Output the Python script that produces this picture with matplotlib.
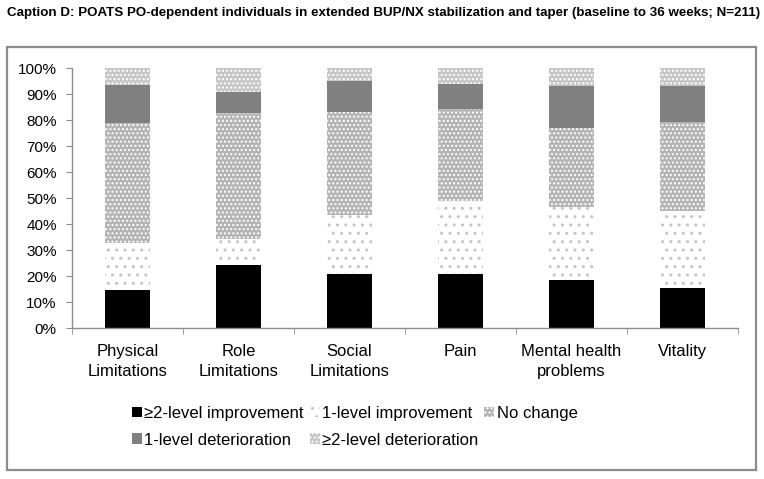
import numpy as np
import matplotlib
matplotlib.use("Agg")
import matplotlib.pyplot as plt
from matplotlib.patches import Rectangle

plt.rcParams['font.family'] = ['Liberation Sans', 'DejaVu Sans']
plt.rcParams['hatch.linewidth'] = 1.0

title = "Caption D: POATS PO-dependent individuals in extended BUP/NX stabilization and taper (baseline to 36 weeks; N=211)"
categories = ["Physical\nLimitations", "Role\nLimitations", "Social\nLimitations",
              "Pain", "Mental health\nproblems", "Vitality"]
series_names = ["\u22652-level improvement", "1-level improvement", "No change",
                "1-level deterioration", "\u22652-level deterioration"]
impr2 = [14.6, 24.2, 21.0, 21.0, 18.7, 15.6]
impr1 = [18.3, 10.1, 22.6, 28.0, 28.1, 29.6]
no_change = [45.9, 48.6, 39.7, 35.3, 30.4, 34.1]
det1 = [14.9, 8.1, 11.9, 9.5, 16.0, 13.9]
det2 = [6.3, 9.0, 4.8, 6.2, 6.8, 6.8]

# (facecolor, hatch, hatch colour)
styles = [("black", None, "black"),
          ("white", "..", "#c4c4c4"),
          ("#b4b4b4", "....", "white"),
          ("#808080", None, "#808080"),
          ("#c6c6c6", "....", "white")]

fig = plt.figure(figsize=(7.64, 4.79), dpi=100)
fig.text(0.009, 0.972, title, fontsize=9.6, fontweight="bold", va="center", ha="left")

# outer frame
fig.patches.append(Rectangle((0.0092, 0.019), 0.980, 0.883, transform=fig.transFigure,
                             fill=False, edgecolor="#8c8c8c", linewidth=1.6))

ax = fig.add_axes([0.0942, 0.3146, 0.8718, 0.5428])
x = np.arange(len(categories))
bottom = np.zeros(len(categories))
handles = []
for name, vals, (fc, hatch, hc) in zip(series_names, [impr2, impr1, no_change, det1, det2], styles):
    bars = ax.bar(x, vals, width=0.4, bottom=bottom, color=fc, hatch=hatch,
                  edgecolor=hc, linewidth=0, label=name)
    handles.append(bars)
    bottom += np.array(vals)

ax.set_xlim(-0.5, len(categories) - 0.5)
ax.set_ylim(0, 100)
ax.set_yticks(np.arange(0, 101, 10))
ax.set_yticklabels([f"{v}%" for v in range(0, 101, 10)], fontsize=11)
ax.set_xticks(x)
ax.set_xticklabels(categories, fontsize=12, linespacing=1.45)
ax.set_xticks(np.arange(-0.5, len(categories)), minor=True)
ax.tick_params(axis="x", which="major", length=0, pad=11)
ax.tick_params(axis="x", which="minor", length=4, color="#8c8c8c", direction="out")
ax.tick_params(axis="y", length=4, color="#8c8c8c", pad=7)
for s in ["top", "right"]:
    ax.spines[s].set_visible(False)
for s in ["left", "bottom"]:
    ax.spines[s].set_color("#8c8c8c")
    ax.spines[s].set_linewidth(1.0)

order = [0, 3, 1, 4, 2]
leg = fig.legend([handles[i] for i in order], [series_names[i] for i in order],
                 ncol=3, loc="upper left", bbox_to_anchor=(0.153, 0.184),
                 frameon=False, fontsize=12, handlelength=0.6, handleheight=0.6,
                 handletextpad=0.15, columnspacing=0.35, labelspacing=0.7)

fig.savefig("out.png", dpi=100)
